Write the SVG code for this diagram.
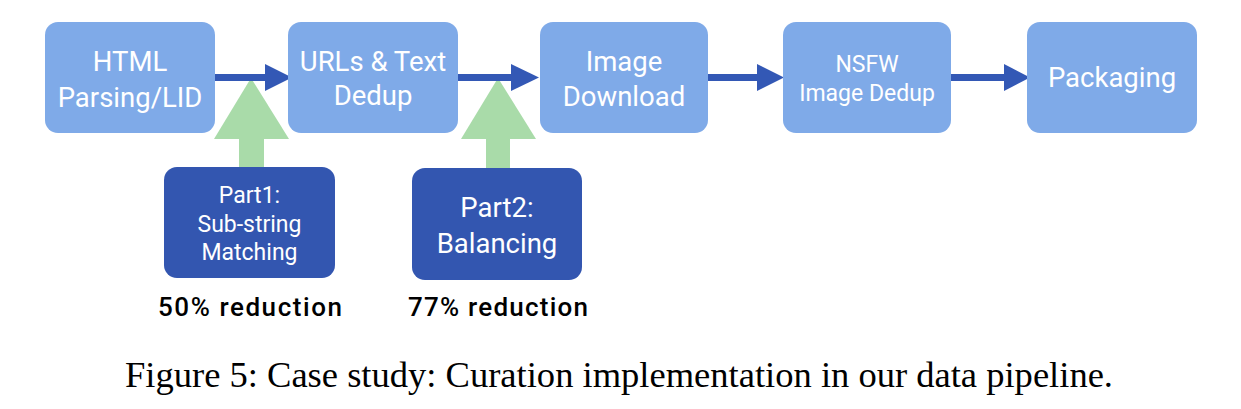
<svg xmlns="http://www.w3.org/2000/svg" width="1241" height="409" viewBox="0 0 1241 409">
<style>
.stage{fill:#7faae8;}
.part{fill:#3356b0;}
.t{font-family:Roboto,"Open Sans",sans-serif;fill:#ffffff;text-anchor:middle;}
.big{font-size:27.5px;}
.sm{font-size:23px;}
.red{font-family:Roboto,"Open Sans",sans-serif;fill:#000000;text-anchor:middle;font-size:26px;font-weight:500;}
.cap{font-family:"Liberation Serif","Times New Roman",serif;fill:#000000;font-size:35px;}
.flow{fill:#3358b5;}
.up{fill:#a9dba9;}
</style>
<rect width="1241" height="409" fill="#ffffff"/>
<g id="connectors">
  <g id="up1" class="up"><rect x="239" y="137" width="25" height="31"/><polygon points="251,78 289,139 214,139"/></g>
  <g id="up2" class="up"><rect x="486" y="137" width="24" height="32"/><polygon points="498,78 536,139 461,139"/></g>
  <g id="a1" class="flow"><rect x="215" y="74" width="52" height="7"/><polygon points="265,64 292,77.5 265,91"/></g>
  <g id="a2" class="flow"><rect x="458" y="74" width="55" height="7"/><polygon points="511,64 539,77.5 511,91"/></g>
  <g id="a3" class="flow"><rect x="707" y="74" width="52" height="7"/><polygon points="757,64 784,77.5 757,91"/></g>
  <g id="a4" class="flow"><rect x="950" y="74" width="56" height="7"/><polygon points="1004,64 1030,77.5 1004,91"/></g>
</g>
<g id="n1"><rect class="stage" x="45" y="22" width="170" height="111" rx="13"/><text class="t big" x="130" y="71">HTML</text><text class="t big" x="130" y="107">Parsing/LID</text></g>
<g id="n2"><rect class="stage" x="288" y="22" width="170" height="111" rx="13"/><text class="t big" x="373" y="71">URLs &amp; Text</text><text class="t big" x="373" y="105">Dedup</text></g>
<g id="n3"><rect class="stage" x="540" y="22" width="168" height="111" rx="13"/><text class="t big" x="624" y="71">Image</text><text class="t big" x="624" y="106">Download</text></g>
<g id="n4"><rect class="stage" x="783" y="22" width="168" height="111" rx="13"/><text class="t sm" x="867" y="72">NSFW</text><text class="t sm" x="867" y="101">Image Dedup</text></g>
<g id="n5"><rect class="stage" x="1027" y="22" width="170" height="111" rx="13"/><text class="t big" x="1112" y="87">Packaging</text></g>
<g id="p1"><rect class="part" x="164" y="167" width="171" height="111" rx="13"/><text class="t sm" x="249.5" y="203">Part1:</text><text class="t sm" x="249.5" y="232">Sub-string</text><text class="t sm" x="249.5" y="260">Matching</text></g>
<g id="p2"><rect class="part" x="412" y="168" width="170" height="112" rx="13"/><text class="t big" x="497" y="217">Part2:</text><text class="t big" x="497" y="253">Balancing</text></g>
<text class="red" x="250" y="316" textLength="184" lengthAdjust="spacing">50% reduction</text>
<text class="red" x="498" y="316" textLength="180" lengthAdjust="spacing">77% reduction</text>
<text class="cap" x="125" y="387" textLength="988" lengthAdjust="spacingAndGlyphs">Figure 5: Case study: Curation implementation in our data pipeline.</text>
</svg>
